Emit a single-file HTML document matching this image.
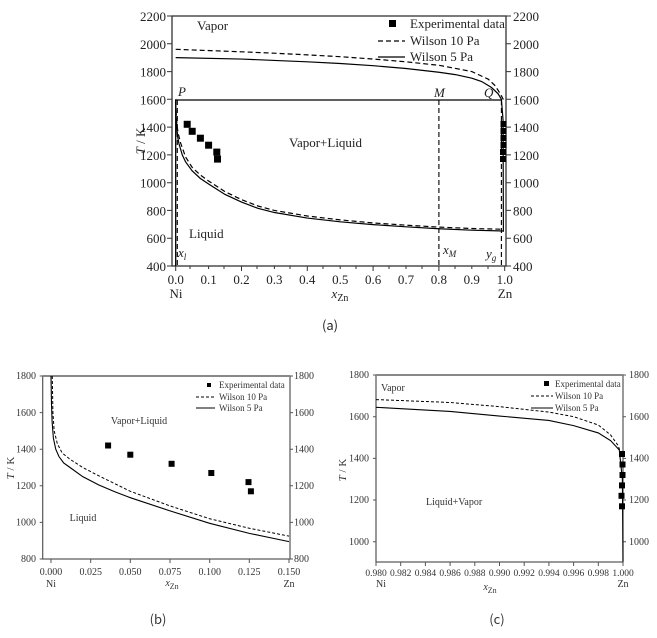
<!DOCTYPE html>
<html><head><meta charset="utf-8"><style>
html,body{margin:0;padding:0;background:#fff;}
svg{display:block;font-family:"Liberation Serif",serif;}
</style></head><body>
<svg width="657" height="638" viewBox="0 0 657 638" xmlns="http://www.w3.org/2000/svg" font-family="Liberation Serif, serif">
<!-- ===== (a) ===== -->
<g stroke="#333" stroke-width="1.3" fill="none">
<rect x="172" y="16" width="334" height="250"/>
</g>
<g stroke="#333" stroke-width="1">
<path d="M175.7 266v5M208.6 266v3M241.5 266v5M274.4 266v3M307.3 266v5M340.2 266v3M373.1 266v5M406 266v3M438.9 266v5M471.8 266v3M504.7 266v5"/>
<path d="M190 266v3M224 266v3M257 266v3M290 266v3M323 266v3M356 266v3M389 266v3M422 266v3M455 266v3M488 266v3"/>
<path d="M172 16h-5M172 43.8h-5M172 71.6h-5M172 99.3h-5M172 127.1h-5M172 154.9h-5M172 182.7h-5M172 210.4h-5M172 238.2h-5M172 266h-5"/>
<path d="M506 16h5M506 43.8h5M506 71.6h5M506 99.3h5M506 127.1h5M506 154.9h5M506 182.7h5M506 210.4h5M506 238.2h5M506 266h5"/>
</g>
<g font-size="13" fill="#222" text-anchor="end">
<text x="166" y="21">2200</text><text x="166" y="48.8">2000</text><text x="166" y="76.6">1800</text><text x="166" y="104.3">1600</text><text x="166" y="132.1">1400</text><text x="166" y="159.9">1200</text><text x="166" y="187.7">1000</text><text x="166" y="215.4">800</text><text x="166" y="243.2">600</text><text x="166" y="271">400</text>
</g>
<g font-size="13" fill="#222">
<text x="513" y="21">2200</text><text x="513" y="48.8">2000</text><text x="513" y="76.6">1800</text><text x="513" y="104.3">1600</text><text x="513" y="132.1">1400</text><text x="513" y="159.9">1200</text><text x="513" y="187.7">1000</text><text x="513" y="215.4">800</text><text x="513" y="243.2">600</text><text x="513" y="271">400</text>
</g>
<g font-size="13" fill="#222" text-anchor="middle">
<text x="175.7" y="284">0.0</text><text x="208.6" y="284">0.1</text><text x="241.5" y="284">0.2</text><text x="274.4" y="284">0.3</text><text x="307.3" y="284">0.4</text><text x="340.2" y="284">0.5</text><text x="373.1" y="284">0.6</text><text x="406" y="284">0.7</text><text x="438.9" y="284">0.8</text><text x="471.8" y="284">0.9</text><text x="504.7" y="284">1.0</text>
<text x="176" y="298">Ni</text><text x="505" y="298">Zn</text>
<text x="340" y="298" font-style="italic">x<tspan font-size="10" dy="3" font-style="normal">Zn</tspan></text>
<text x="330" y="330" font-size="13" font-family="'Noto Sans CJK SC',sans-serif">(a)</text>
</g>
<text transform="translate(145,141) rotate(-90)" font-size="13" text-anchor="middle" fill="#222"><tspan font-style="italic">T</tspan> / K</text>
<g font-size="13" fill="#222">
<text x="197" y="30">Vapor</text>
<text x="289" y="147">Vapor+Liquid</text>
<text x="189" y="238">Liquid</text>
<text x="178" y="96" font-style="italic">P</text>
<text x="434" y="97" font-style="italic">M</text>
<text x="484" y="97" font-style="italic">Q</text>
<text x="178" y="257" font-style="italic">x<tspan font-size="9" dy="3">l</tspan></text>
<text x="443" y="254" font-style="italic">x<tspan font-size="9" dy="3">M</tspan></text>
<text x="486" y="258" font-style="italic">y<tspan font-size="9" dy="3">g</tspan></text>
<text x="410" y="28">Experimental data</text>
<text x="410" y="45">Wilson 10 Pa</text>
<text x="410" y="61">Wilson 5 Pa</text>
</g>
<rect x="389" y="20" width="7" height="7" fill="#000"/>
<path d="M378 41h27" stroke="#000" stroke-width="1.2" stroke-dasharray="5,3"/>
<path d="M378 57h27" stroke="#000" stroke-width="1.2"/>
<path d="M175.7 100H501" stroke="#000" stroke-width="1.2"/>
<path d="M177.3 100V266M438.9 100V266M501.4 100V266" stroke="#000" stroke-width="1.1" stroke-dasharray="5,3"/>
<g transform="translate(175.7,321.56) scale(329,-0.1389)" fill="none" stroke="#000">
<polyline vector-effect="non-scaling-stroke" stroke-width="1.2" points="0,1900 0.2,1890 0.3,1880 0.4,1870 0.5,1858 0.6,1842 0.7,1822 0.8,1795 0.85,1778 0.9,1752 0.93,1728 0.96,1685 0.98,1640 0.99,1600 0.995,1450 0.996,650 0.997,650"/>
<polyline vector-effect="non-scaling-stroke" stroke-width="1.2" stroke-dasharray="5,3" points="0,1960 0.2,1942 0.3,1932 0.4,1920 0.5,1907 0.6,1890 0.7,1870 0.8,1845 0.9,1800 0.95,1745 0.97,1700 0.98,1665 0.99,1625 1.0,1580"/>
<polyline vector-effect="non-scaling-stroke" stroke-width="1.2" points="0,1600 0.001,1480 0.003,1390 0.006,1330 0.01,1280 0.02,1200 0.03,1150 0.05,1085 0.075,1030 0.1,990 0.15,915 0.2,860 0.25,815 0.3,785 0.4,745 0.5,718 0.6,698 0.7,682 0.8,668 0.9,658 0.997,652"/>
<polyline vector-effect="non-scaling-stroke" stroke-width="1.2" stroke-dasharray="5,3" points="0.001,1520 0.004,1410 0.008,1350 0.015,1285 0.03,1185 0.05,1110 0.075,1055 0.1,1012 0.15,935 0.2,878 0.25,832 0.3,800 0.4,760 0.5,732 0.6,710 0.7,694 0.8,680 0.9,670 0.99,665"/>
<polyline vector-effect="non-scaling-stroke" stroke-width="1.3" points="0,1600 0,400"/>
</g>
<g fill="#000">
<rect x="183.7" y="120.8" width="7" height="7"/><rect x="188.7" y="127.8" width="7" height="7"/><rect x="196.9" y="134.7" width="7" height="7"/><rect x="205.1" y="141.7" width="7" height="7"/><rect x="213.3" y="148.6" width="7" height="7"/><rect x="214" y="155.6" width="7" height="7"/>
<rect x="500.5" y="121" width="6" height="6"/><rect x="500.5" y="128" width="6" height="6"/><rect x="500.5" y="135" width="6" height="6"/><rect x="500.5" y="142" width="6" height="6"/><rect x="500" y="149" width="6" height="6"/><rect x="500" y="156" width="6" height="6"/>
</g>

<!-- ===== (b) ===== -->
<rect x="42.7" y="376" width="247.3" height="183" fill="none" stroke="#555" stroke-width="1.2"/>
<path d="M42.7 376H290" stroke="#888" stroke-width="2"/>
<g stroke="#555" stroke-width="1">
<path d="M51 559v4M90.7 559v4M130.3 559v4M170 559v4M209.7 559v4M249.3 559v4M289 559v4"/>
<path d="M42.7 376h-3M42.7 412.6h-3M42.7 449.2h-3M42.7 485.8h-3M42.7 522.4h-3M42.7 559h-3M290 376h3M290 412.6h3M290 449.2h3M290 485.8h3M290 522.4h3M290 559h3"/>
</g>
<g font-size="10" fill="#333" text-anchor="end">
<text x="36" y="379">1800</text><text x="36" y="416">1600</text><text x="36" y="452.5">1400</text><text x="36" y="489">1200</text><text x="36" y="525.5">1000</text><text x="36" y="562">800</text>
</g>
<g font-size="10" fill="#333">
<text x="294" y="379">1800</text><text x="294" y="416">1600</text><text x="294" y="452.5">1400</text><text x="294" y="489">1200</text><text x="294" y="525.5">1000</text><text x="294" y="562">800</text>
</g>
<g font-size="10" fill="#333" text-anchor="middle">
<text x="51" y="575">0.000</text><text x="90.7" y="575">0.025</text><text x="130.3" y="575">0.050</text><text x="170" y="575">0.075</text><text x="209.7" y="575">0.100</text><text x="249.3" y="575">0.125</text><text x="289" y="575">0.150</text>
<text x="51" y="587">Ni</text><text x="289" y="587">Zn</text>
<text x="172" y="586" font-style="italic">x<tspan font-size="8" dy="3" font-style="normal">Zn</tspan></text>
<text x="158" y="624" font-size="13" font-family="'Noto Sans CJK SC',sans-serif">(b)</text>
<text x="83" y="521">Liquid</text>
<text x="139" y="424">Vapor+Liquid</text>
</g>
<text transform="translate(14,468) rotate(-90)" font-size="11" text-anchor="middle" fill="#333"><tspan font-style="italic">T</tspan> / K</text>
<g font-size="9" fill="#333">
<text x="219" y="388">Experimental data</text>
<text x="219" y="400">Wilson 10 Pa</text>
<text x="219" y="411">Wilson 5 Pa</text>
</g>
<rect x="207" y="383" width="4" height="4" fill="#000"/>
<path d="M196 397h19" stroke="#000" stroke-dasharray="3,2"/>
<path d="M196 408h19" stroke="#000"/>
<g transform="translate(51,705.4) scale(1586.7,-0.183)" fill="none" stroke="#000">
<polyline vector-effect="non-scaling-stroke" stroke-width="1.1" points="0,1800 0.0003,1650 0.0007,1550 0.0015,1460 0.003,1400 0.005,1360 0.008,1325 0.012,1300 0.02,1250 0.03,1205 0.04,1168 0.05,1135 0.075,1063 0.1,995 0.125,940 0.15,895"/>
<polyline vector-effect="non-scaling-stroke" stroke-width="1" stroke-dasharray="3,2" points="0.0008,1800 0.0012,1600 0.002,1500 0.004,1430 0.007,1380 0.012,1345 0.02,1300 0.03,1255 0.05,1170 0.075,1090 0.1,1020 0.125,968 0.15,925"/>
</g>
<g fill="#000">
<rect x="105.1" y="442.5" width="6" height="6"/><rect x="127.3" y="451.7" width="6" height="6"/><rect x="168.6" y="460.8" width="6" height="6"/><rect x="208.3" y="470" width="6" height="6"/><rect x="245.5" y="479.1" width="6" height="6"/><rect x="247.9" y="488.3" width="6" height="6"/>
</g>

<!-- ===== (c) ===== -->
<rect x="376" y="375" width="247" height="187" fill="none" stroke="#555" stroke-width="1.2"/>
<path d="M376 375H623" stroke="#888" stroke-width="2"/>
<g stroke="#555" stroke-width="1">
<path d="M376 562v4M400.7 562v4M425.4 562v4M450.1 562v4M474.8 562v4M499.5 562v4M524.2 562v4M548.9 562v4M573.6 562v4M598.3 562v4M623 562v4"/>
<path d="M376 375h-3M376 416.7h-3M376 458.4h-3M376 500h-3M376 541.7h-3M623 375h3M623 416.7h3M623 458.4h3M623 500h3M623 541.7h3"/>
</g>
<g font-size="10" fill="#333" text-anchor="end">
<text x="369" y="378">1800</text><text x="369" y="420">1600</text><text x="369" y="461.5">1400</text><text x="369" y="503">1200</text><text x="369" y="545">1000</text>
</g>
<g font-size="10" fill="#333">
<text x="629" y="378">1800</text><text x="629" y="420">1600</text><text x="629" y="461.5">1400</text><text x="629" y="503">1200</text><text x="629" y="545">1000</text>
</g>
<g font-size="9.5" fill="#333" text-anchor="middle">
<text x="376" y="576">0.980</text><text x="400.7" y="576">0.982</text><text x="425.4" y="576">0.984</text><text x="450.1" y="576">0.986</text><text x="474.8" y="576">0.988</text><text x="499.5" y="576">0.990</text><text x="524.2" y="576">0.992</text><text x="548.9" y="576">0.994</text><text x="573.6" y="576">0.996</text><text x="598.3" y="576">0.998</text><text x="623" y="576">1.000</text>
<text x="381" y="587" font-size="10">Ni</text><text x="623" y="587" font-size="10">Zn</text>
<text x="490" y="590" font-size="10" font-style="italic">x<tspan font-size="8" dy="3" font-style="normal">Zn</tspan></text>
<text x="497" y="624" font-size="13" font-family="'Noto Sans CJK SC',sans-serif">(c)</text>
</g>
<text transform="translate(346,470) rotate(-90)" font-size="11" text-anchor="middle" fill="#333"><tspan font-style="italic">T</tspan> / K</text>
<g font-size="10" fill="#333">
<text x="381" y="391">Vapor</text>
<text x="426" y="505">Liquid+Vapor</text>
</g>
<g font-size="9" fill="#333">
<text x="555" y="387">Experimental data</text>
<text x="555" y="399">Wilson 10 Pa</text>
<text x="555" y="411">Wilson 5 Pa</text>
</g>
<rect x="544" y="381" width="5" height="5" fill="#000"/>
<path d="M531 396h22" stroke="#000" stroke-dasharray="3,2"/>
<path d="M531 408h22" stroke="#000"/>
<g transform="translate(-11727,750.1) scale(12350,-0.2084)" fill="none" stroke="#000">
<polyline vector-effect="non-scaling-stroke" stroke-width="1.1" points="0.98,1645 0.986,1625 0.99,1603 0.994,1582 0.996,1557 0.998,1522 0.999,1485 0.9997,1440 0.99995,1300 1.0,905"/>
<polyline vector-effect="non-scaling-stroke" stroke-width="1" stroke-dasharray="3,2" points="0.98,1682 0.986,1668 0.99,1648 0.994,1622 0.996,1600 0.998,1560 0.999,1512 0.9996,1462 0.99985,1420"/>
</g>
<g fill="#000">
<rect x="619" y="451" width="6" height="6"/><rect x="619.5" y="461.5" width="6" height="6"/><rect x="619.5" y="472" width="6" height="6"/><rect x="619" y="482.4" width="6" height="6"/><rect x="618.5" y="492.8" width="6" height="6"/><rect x="619" y="503.3" width="6" height="6"/>
</g>
</svg>
</body></html>
